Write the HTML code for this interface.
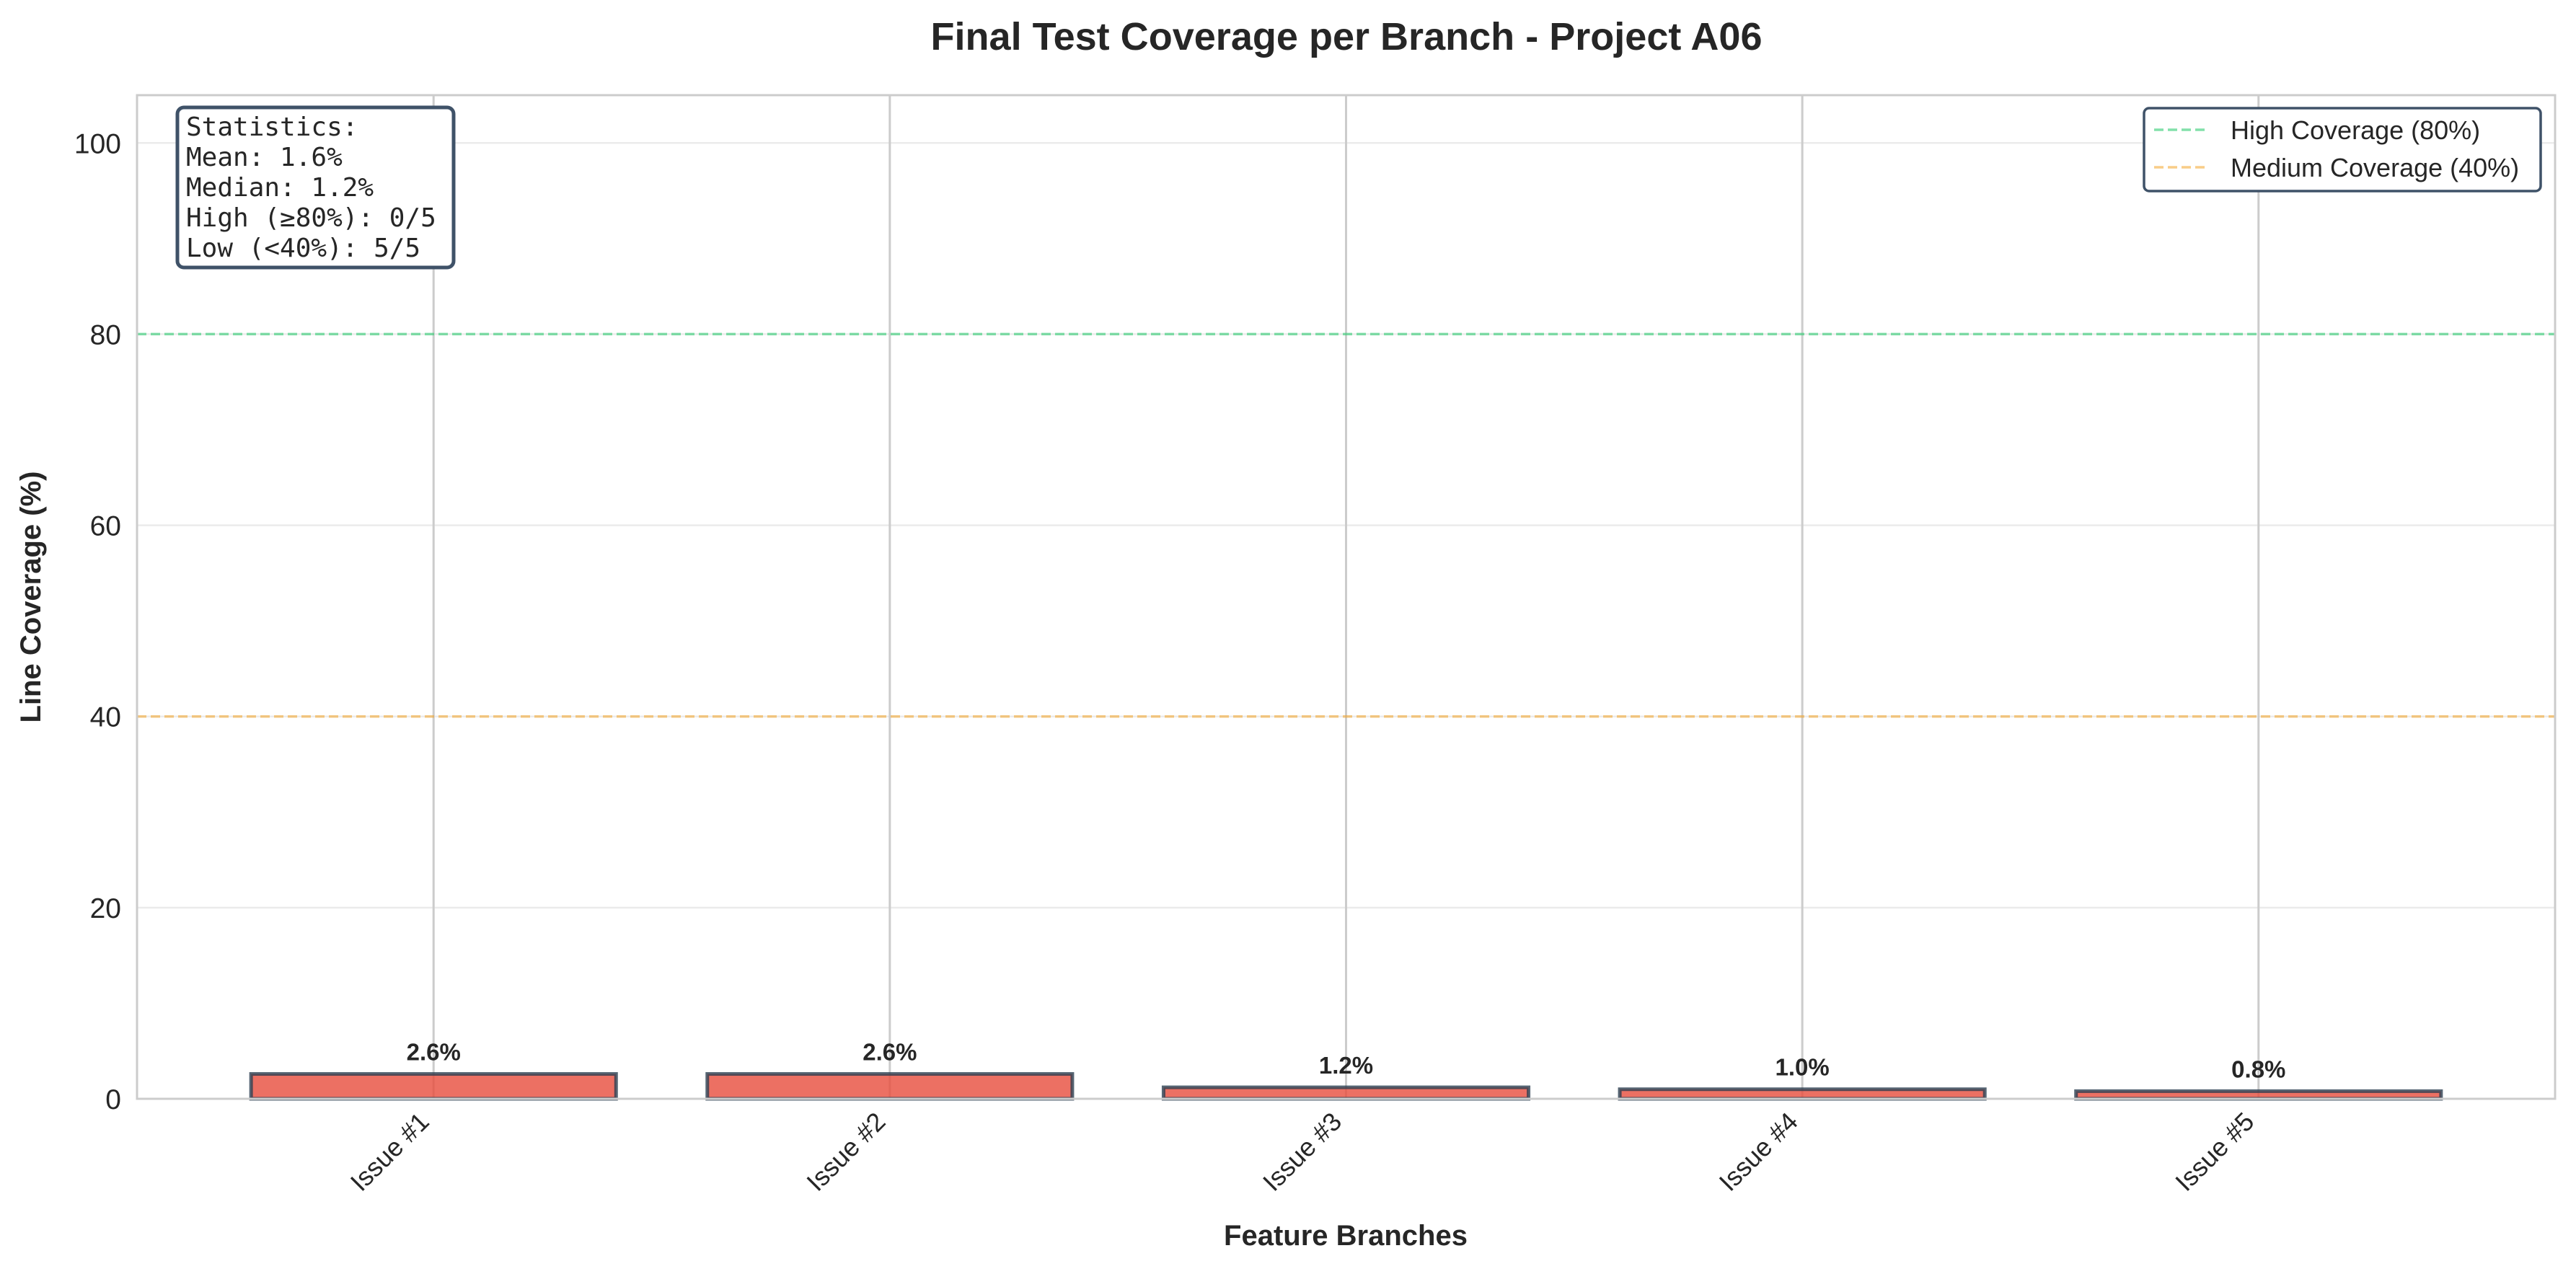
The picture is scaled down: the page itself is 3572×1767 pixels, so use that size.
<!DOCTYPE html>
<html><head><meta charset="utf-8"><style>
html,body{margin:0;padding:0;background:#fff;}
svg{display:block;}
text{font-family:"Liberation Sans",Arial,sans-serif;fill:#262626;}
.mono{font-family:"DejaVu Sans Mono","Liberation Mono",monospace;}
</style></head><body>
<svg id="chart" width="3572" height="1767" viewBox="0 0 3572 1767" xmlns="http://www.w3.org/2000/svg">
<rect x="0" y="0" width="3572" height="1767" fill="#fff"/>
<text x="1867" y="69" font-size="54" font-weight="bold" text-anchor="middle" textLength="1153" lengthAdjust="spacingAndGlyphs">Final Test Coverage per Branch - Project A06</text>
<g id="gGrid"></g>
<g id="gRefs"></g>
<g id="gBars"></g>
<g id="gVals"></g>
<rect x="190" y="132" width="3353" height="1392" fill="none" stroke="#cccccc" stroke-width="3"/>
<g id="gTicks"></g>
<text transform="translate(56,828) rotate(-90)" font-size="40" font-weight="bold" text-anchor="middle">Line Coverage (%)</text>
<text x="1866" y="1727" font-size="40" font-weight="bold" text-anchor="middle">Feature Branches</text>
<g>
<rect x="246" y="149" width="383" height="222" rx="9" fill="#fff" stroke="#3f5268" stroke-width="5"/>
<text class="mono" x="258" y="188" font-size="36" fill="#262626">Statistics:</text>
<text class="mono" x="258" y="230" font-size="36" fill="#262626">Mean: 1.6%</text>
<text class="mono" x="258" y="272" font-size="36" fill="#262626">Median: 1.2%</text>
<text class="mono" x="258" y="314" font-size="36" fill="#262626">High (≥80%): 0/5</text>
<text class="mono" x="258" y="356" font-size="36" fill="#262626">Low (&lt;40%): 5/5</text>
</g>
<g>
<rect x="2973" y="150" width="550" height="115" rx="7" fill="#fff" stroke="#3f5268" stroke-width="3.5"/>
<line x1="2987" y1="180" x2="3062" y2="180" stroke="#2ecc71" stroke-opacity="0.6" stroke-width="3.5" stroke-dasharray="13,6"/>
<text x="3093" y="193" font-size="36">High Coverage (80%)</text>
<line x1="2987" y1="232" x2="3062" y2="232" stroke="#f39c12" stroke-opacity="0.5" stroke-width="3.5" stroke-dasharray="13,6"/>
<text x="3093" y="245" font-size="36">Medium Coverage (40%)</text>
</g>
</svg>
<script>
var categories = ["Issue #1","Issue #2","Issue #3","Issue #4","Issue #5"];
var coverage = [2.6, 2.6, 1.2, 1.0, 0.8];
var yTicks = [0,20,40,60,80,100];
var thresholds = [80,40];

var SVGNS="http://www.w3.org/2000/svg";
var PL=190,PR=3543,PT=132,PB=1524;
var xMin=-0.65,xMax=4.65,yMin=0,yMax=105;
function xs(v){return PL+(v-xMin)/(xMax-xMin)*(PR-PL);}
function ys(v){return PB-(v-yMin)/(yMax-yMin)*(PB-PT);}
function mk(tag,attrs,parent){var e=document.createElementNS(SVGNS,tag);for(var k in attrs){e.setAttribute(k,String(attrs[k]));}parent.appendChild(e);return e;}
var gGrid=document.getElementById('gGrid'),gRefs=document.getElementById('gRefs'),gBars=document.getElementById('gBars'),gVals=document.getElementById('gVals'),gTicks=document.getElementById('gTicks');
yTicks.forEach(function(t){
  var g=mk('line',{x1:PL,x2:PR,y1:ys(t),y2:ys(t),stroke:'#ebebeb','stroke-width':2.5},gGrid);
  
  
  var tx=mk('text',{x:PL-22,y:ys(t)+14,'font-size':39,'text-anchor':'end'},gTicks);
  tx.textContent=String(t);
  
  
});
categories.forEach(function(c,i){
  var g=mk('line',{x1:xs(i),x2:xs(i),y1:PT,y2:PB,stroke:'#cccccc','stroke-width':3},gGrid);
  
  
});
var refColors=['#2ecc71','#f39c12'];
thresholds.forEach(function(t,i){
  var l=mk('line',{x1:PL,x2:PR,y1:ys(t),y2:ys(t),stroke:refColors[i],'stroke-opacity':(i==0?0.6:0.5),'stroke-width':3.5,'stroke-dasharray':'13,6'},gRefs);
  
  
});
var bw=0.8;
for(var i=0;i<coverage.length;i++){
  var v=coverage[i];
  var x0=xs(i-bw/2),x1=xs(i+bw/2),y0=ys(v);
  var r=mk('rect',{x:x0,y:y0,width:x1-x0,height:ys(0)-y0,fill:'#e74c3c','fill-opacity':0.8,stroke:'#2c3e50','stroke-opacity':0.8,'stroke-width':5},gBars);
  
  
  var vt=mk('text',{x:xs(i),y:y0-19,'font-size':33,'font-weight':'bold','text-anchor':'middle',fill:'#1a1a1a'},gVals);
  vt.textContent=v.toFixed(1)+'%';
  
  
}
for(var j=0;j<categories.length;j++){
  var px=xs(j)-4,py=PB+34;
  var xl=document.createElementNS(SVGNS,'text');
  xl.setAttribute('x',String(px));
  xl.setAttribute('y',String(py));
  xl.setAttribute('font-size','36');
  xl.setAttribute('text-anchor','end');
  xl.setAttribute('transform','rotate(-45 '+px+' '+py+')');
  xl.textContent=categories[j];
  
  
  gTicks.appendChild(xl);
}
</script>
</body></html>
